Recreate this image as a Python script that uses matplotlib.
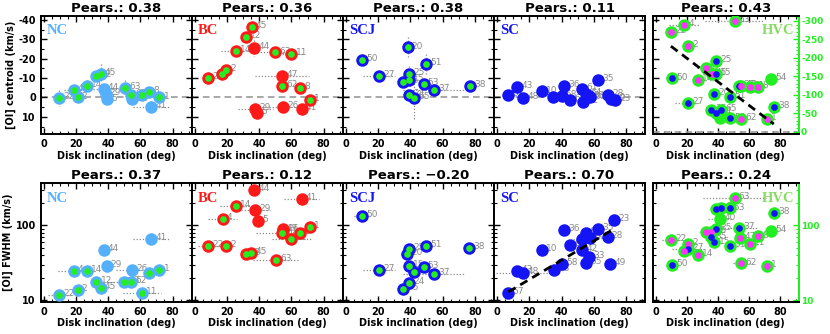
import numpy as np
import matplotlib
matplotlib.use('Agg')
import matplotlib.pyplot as plt
from matplotlib.ticker import FixedLocator, MultipleLocator, NullFormatter, FuncFormatter, LogLocator

# ------------------------------------------------------------------ data
# NC - centroid
nc_c_lab = ['22', '4', '2', '14', '12', '45', '44', '29', '5', '63', '62', '26', '11', '8', '41', '1']
nc_c_x = [9.5, 18.5, 21.0, 26.7, 32.6, 35.3, 37.3, 38.4, 39.4, 50.3, 54.4, 54.8, 61.0, 65.4, 66.7, 71.8]
nc_c_y = [0.3, -4.1, 0.0, -5.9, -11.3, -12.2, -4.6, -2.0, 1.0, -5.0, -1.2, 1.0, -1.2, -3.0, 4.8, 0.0]
nc_c_dot = [1, 1, 1, 1, 1, 1, 0, 0, 0, 1, 1, 0, 1, 1, 0, 1]
nc_c_xerr = [0, 6, 0, 0, 0, 0, 7, 0, 0, 0, 0, 0, 0, 0, 11.5, 0]
nc_c_yerr = [4, 0, 0, 3, 0, 5, 0, 0, 0, 4, 0, 0, 0, 0, 3, 0]

# NC - FWHM
nc_w_lab = ['22', '2', '4', '14', '12', '45', '44', '29', '63', '62', '26', '11', '8', '41', '1']
nc_w_x = [9.6, 20.9, 18.5, 26.7, 32.6, 35.3, 37.3, 39.0, 50.0, 54.4, 54.8, 60.9, 65.4, 66.7, 71.8]
nc_w_y = [11.7, 13.9, 24.6, 24.6, 17.6, 14.6, 46.4, 28.7, 17.6, 17.6, 25.1, 12.5, 23.1, 66.4, 25.1]
nc_w_dot = [1, 1, 1, 1, 1, 1, 0, 0, 1, 1, 0, 1, 1, 0, 1]
nc_w_xerr = [7, 0, 10, 0, 0, 0, 0, 0, 9, 0, 10, 12, 0, 11, 0]

# BC - centroid
bc_c_lab = ['45', '12', '14', '44', '63', '11', '2', '4', '22', '47', '62', '8', '1', '29', '5', '26', '41']
bc_c_x = [35.3, 31.7, 25.4, 36.8, 49.9, 60.0, 19.2, 17.0, 8.0, 54.1, 54.3, 65.5, 71.7, 37.6, 38.7, 55.0, 66.4]
bc_c_y = [-36.4, -31.4, -24.2, -25.4, -23.2, -22.4, -14.4, -12.2, -10.2, -11.2, -6.1, -4.7, 1.2, 5.9, 8.1, 5.1, 5.9]
bc_c_dot = [1, 1, 1, 0, 1, 1, 1, 1, 1, 0, 1, 1, 1, 0, 0, 0, 0]
bc_c_xerr = [0, 0, 9, 0, 13, 8, 0, 0, 0, 17, 0, 0, 0, 11, 0, 9, 0]
bc_c_yerr = [0, 0, 0, 4, 0, 0, 0, 0, 3, 0, 0, 3, 0, 0, 0, 0, 2]

# BC - FWHM
bc_w_lab = ['44', '41', '14', '29', '5', '4', '1', '26', '47', '62', '8', '11', '22', '2', '12', '45', '63']
bc_w_x = [36.8, 66.4, 25.4, 37.6, 39.1, 17.1, 71.7, 55.0, 54.5, 54.1, 65.5, 60.0, 8.0, 19.2, 31.7, 34.9, 50.3]
bc_w_y = [293, 227, 181, 162, 113, 120, 95, 86, 88, 79, 80, 66, 52.5, 52.5, 41, 43, 35]
bc_w_dot = [0, 0, 1, 0, 0, 1, 1, 0, 0, 1, 1, 1, 1, 1, 1, 1, 1]
bc_w_xerr = [0, 11, 10, 9, 0, 9, 0, 0, 0, 16, 0, 12, 6, 0, 0, 0, 14]

# SCJ - centroid
scj_c_lab = ['20', '50', '51', '27', '25', '15', '35', '53', '37', '38', '24', '65']
scj_c_x = [38.3, 10.1, 49.5, 20.5, 39.1, 39.1, 35.5, 48.2, 54.5, 77.0, 39.1, 42.3]
scj_c_y = [-25.8, -19.2, -17.3, -11.0, -12.2, -9.0, -8.1, -6.8, -4.1, -5.9, -1.4, 0.3]
scj_c_xerr = [0, 4, 0, 10, 0, 0, 0, 0, 19, 0, 0, 0]
scj_c_yerr = [5.5, 0, 5, 0, 4, 0, 0, 0, 0, 0, 0, 11]

# SCJ - FWHM
scj_w_lab = ['50', '25', '20', '51', '38', '15', '53', '27', '65', '37', '24', '35']
scj_w_x = [10.1, 39.1, 38.1, 49.5, 76.7, 39.1, 48.2, 20.5, 42.3, 54.5, 39.1, 35.5]
scj_w_y = [133, 48.8, 41, 53, 49.9, 28.7, 27.8, 25.1, 23.9, 22.7, 17, 14.3]
scj_w_xerr = [5, 0, 4, 0, 0, 0, 0, 10, 0, 19, 0, 0]

# SC - centroid
sc_c_lab = ['57', '43', '48', '10', '13', '58', '36', '6', '61', '42', '64', '33', '60', '35', '28', '49', '23']
sc_c_x = [6.9, 12.3, 16.2, 27.6, 34.6, 40.0, 41.5, 45.4, 52.9, 53.6, 55.5, 57.0, 57.9, 62.6, 69.1, 70.5, 73.4]
sc_c_y = [-1.2, -5.4, 0.3, -3.1, 0.0, -0.8, -5.9, 1.2, -4.2, 2.5, -1.7, -0.5, 0.0, -9.0, -1.4, 0.8, 1.4]

# SC - FWHM
sc_w_lab = ['57', '43', '48', '10', '13', '58', '36', '6', '61', '42', '64', '33', '60', '35', '28', '49', '23', '55']
sc_w_x = [6.9, 12.3, 16.2, 27.6, 35.6, 40.6, 41.5, 45.4, 52.9, 52.9, 55.0, 57.2, 57.9, 62.6, 68.7, 70.2, 72.9, 55.5]
sc_w_y = [12.5, 24.6, 23.1, 46.4, 25.1, 30.8, 87.5, 54.1, 66.4, 46.4, 79, 37.8, 68.5, 90.3, 69.9, 30.2, 116.6, 31.5]
sc_w_xerr = [0, 0, 17, 0, 0, 0, 0, 0, 6, 0, 0, 0, 0, 0, 0, 0, 0, 0]
sc_w_fit = [1.023, 0.01278]        # log10(FWHM) = a + b * incl
sc_w_fit_x = [6.9, 71.0]

# HVC - centroid
hvc_c_lab = ['22', '4', '63', '2', '25', '12', '45', '15', '50', '14', '54', '37', '47', '11', '8', '20',
             '51', '27', '38', '35', '24', '65', '40', '53', '62', '1']
hvc_c_x = [9.7, 18.2, 50.6, 20.6, 38.6, 32.4, 36.0, 38.8, 10.3, 26.8, 74.0, 53.6, 54.7, 60.7, 65.5, 37.6,
           47.9, 20.6, 75.8, 35.4, 38.8, 41.8, 41.4, 47.9, 54.7, 71.5]
hvc_c_y = [-270, -290, -300, -231, -191, -171, -156, -156, -144, -140, -143, -123, -125, -120, -120, -101,
           -95, -78, -68, -59, -51, -59, -36, -36, -34, -35]
hvc_c_kind = ['m', 'm', 'm', 'm', 'b', 'm', 'm', 'b', 'b', 'm', 'g', 'b', 'm', 'm', 'm', 'b',
              'b', 'b', 'b', 'b', 'b', 'b', 'g', 'b', 'm', 'm']
hvc_c_xerr = [0, 10, 19, 0, 0, 6, 0, 0, 4, 0, 0, 0, 0, 0, 0, 0, 0, 8, 0, 0, 0, 0, 0, 0, 0, 0]
hvc_c_fit = [-262.4, 3.19]          # centroid = a + b * incl
hvc_c_fit_x = [9.7, 75.8]

# HVC - FWHM
hvc_w_lab = ['63', '65', '24', '53', '40', '38', '25', '12', '45', '35', '37', '54', '47', '8', '11', '15',
             '51', '22', '2', '27', '4', '14', '50', '62', '1']
hvc_w_x = [50.6, 41.8, 38.8, 47.4, 41.4, 75.8, 38.6, 32.4, 35.6, 35.6, 53.6, 74.0, 54.3, 65.5, 60.7, 37.6,
           47.9, 9.7, 20.6, 20.6, 18.2, 26.8, 10.3, 54.7, 71.5]
hvc_w_y = [230, 169, 164, 168, 122, 148, 89, 81, 81, 69, 92, 83, 68, 71, 57, 59,
           53, 64, 57, 49, 46, 40, 30, 31, 29]
hvc_w_kind = ['m', 'b', 'b', 'b', 'g', 'b', 'b', 'm', 'm', 'b', 'b', 'g', 'm', 'm', 'm', 'b',
              'b', 'm', 'm', 'b', 'm', 'm', 'b', 'm', 'm']
hvc_w_xerr = [20, 0, 0, 0, 8, 0, 0, 0, 0, 0, 12, 0, 0, 0, 0, 0, 0, 6, 0, 10, 0, 0, 4, 5, 0]

pears_top = ['0.38', '0.36', '0.38', '0.11', '0.43']
pears_bot = ['0.37', '0.12', '\u22120.20', '0.70', '0.24']
names = ['NC', 'BC', 'SCJ', 'SC', 'HVC']

# ------------------------------------------------------------------ style
LBLUE = '#55b0fb'
RED = '#ff1a1a'
BLUE = '#1414f5'
GREEN = '#22ee22'
MAG = '#ff33ff'
GRAY = '#8a8a8a'
HVCCOL = '#86dc62'
name_col = [LBLUE, RED, BLUE, BLUE, HVCCOL]

plt.rcParams['font.family'] = ['DejaVu Sans']
plt.rcParams['font.weight'] = 'bold'
plt.rcParams['axes.labelweight'] = 'bold'
plt.rcParams['axes.linewidth'] = 1.4
plt.rcParams['axes.unicode_minus'] = False

W, H = 830, 334
fig = plt.figure(figsize=(W / 100, H / 100), dpi=100)
lefts = [40.7, 191.8, 342.9, 494.0, 652.7]
widths = [151.1, 151.1, 151.1, 151.1, 146.3]
rows = [(16, 134.3), (183.3, 302.0)]

BIG = 9.0
SMALL = 4.8


def rect(i, r):
    t, b = rows[r]
    return [lefts[i] / W, 1 - b / H, widths[i] / W, (b - t) / H]


def base_axes(i, r, log=False):
    ax = fig.add_axes(rect(i, r))
    ax.set_xlim(-2, 92)
    ax.xaxis.set_major_locator(FixedLocator([0, 20, 40, 60, 80]))
    ax.xaxis.set_minor_locator(MultipleLocator(5))
    if log:
        ax.set_yscale('log')
        ax.set_ylim(9.5, 363)
        ax.yaxis.set_major_locator(FixedLocator([10, 100]))
        ax.yaxis.set_minor_locator(LogLocator(base=10, subs=np.arange(2, 10)))
        ax.yaxis.set_major_formatter(FuncFormatter(lambda v, p: '%g' % v))
        ax.yaxis.set_minor_formatter(NullFormatter())
    else:
        ax.set_ylim(19, -42)
        ax.yaxis.set_major_locator(FixedLocator([-40, -30, -20, -10, 0, 10]))
        ax.yaxis.set_minor_locator(MultipleLocator(5))
    ax.tick_params(which='both', direction='in', top=True, right=(i != 4), labelsize=7)
    ax.tick_params(which='major', length=4, width=1)
    ax.tick_params(which='minor', length=2, width=0.8)
    if i != 0:
        ax.tick_params(labelleft=False)
    ax.set_xlabel('Disk inclination (deg)', fontsize=7, labelpad=1)
    ax.set_title('Pears.: ' + (pears_top if r == 0 else pears_bot)[i], fontsize=9.5, fontweight='bold', pad=3)
    if i == 4:
        ax.text(0.97, 0.93, names[i], transform=ax.transAxes, ha='right', va='top', color=name_col[i],
                fontsize=10.5, fontweight='bold', family='Liberation Serif', zorder=10)
    else:
        ax.text(0.04, 0.93, names[i], transform=ax.transAxes, ha='left', va='top', color=name_col[i],
                fontsize=10.5, fontweight='bold', family='Liberation Serif', zorder=10)
    return ax


def errs(ax, x, y, xerr=None, yerr=None):
    x = np.asarray(x, float)
    y = np.asarray(y, float)
    if xerr is not None:
        xe = np.asarray(xerr, float)
        m = xe > 0
        ax.hlines(y[m], x[m] - xe[m], x[m] + xe[m], colors=GRAY, linestyles=(0, (1, 1.5)), lw=0.9, zorder=1)
    if yerr is not None:
        ye = np.asarray(yerr, float)
        m = ye > 0
        ax.vlines(x[m], y[m] - ye[m], y[m] + ye[m], colors=GRAY, linestyles=(0, (1, 1.5)), lw=0.9, zorder=1)


def labels(ax, x, y, lab):
    for xi, yi, li in zip(x, y, lab):
        ax.annotate(li, (xi, yi), xytext=(3, 1), textcoords='offset points', fontsize=6.5,
                    fontweight='normal', color=GRAY, ha='left', va='center', zorder=2)


def ring_plot(ax, x, y, lab, col, dot, xerr=None, yerr=None, dotcol=GREEN):
    errs(ax, x, y, xerr, yerr)
    labels(ax, x, y, lab)
    ax.plot(x, y, 'o', ms=BIG, mfc=col, mec='none', ls='none', zorder=3)
    xd = [xi for xi, d in zip(x, dot) if d]
    yd = [yi for yi, d in zip(y, dot) if d]
    ax.plot(xd, yd, 'o', ms=SMALL, mfc=dotcol, mec='none', ls='none', zorder=4)


def zero_line(ax, y0=0):
    ax.axhline(y0, color='#999999', ls=(0, (4, 2.5)), lw=1.2, zorder=0.5)


def green_right(axr):
    axr.set_xlim(-2, 92)
    axr.tick_params(which='both', direction='in', colors=GREEN, labelcolor=GREEN, labelsize=6.5, pad=1.5)
    axr.tick_params(which='major', length=4, width=1)
    axr.tick_params(which='minor', length=2, width=0.8)
    axr.spines['right'].set_color(GREEN)
    axr.spines['right'].set_linewidth(1.4)


kcol = {'m': MAG, 'b': BLUE, 'g': GREEN}

# ------------------------------------------------------------------ top row
ax = base_axes(0, 0)
zero_line(ax)
ring_plot(ax, nc_c_x, nc_c_y, nc_c_lab, LBLUE, nc_c_dot, nc_c_xerr, nc_c_yerr)
ax.set_ylabel('[OI] centroid (km/s)', fontsize=7, labelpad=2)

ax = base_axes(1, 0)
zero_line(ax)
ring_plot(ax, bc_c_x, bc_c_y, bc_c_lab, RED, bc_c_dot, bc_c_xerr, bc_c_yerr)

ax = base_axes(2, 0)
zero_line(ax)
ring_plot(ax, scj_c_x, scj_c_y, scj_c_lab, BLUE, [1] * len(scj_c_x), scj_c_xerr, scj_c_yerr)

ax = base_axes(3, 0)
zero_line(ax)
ring_plot(ax, sc_c_x, sc_c_y, sc_c_lab, BLUE, [0] * len(sc_c_x))

ax = base_axes(4, 0)
ax.spines['right'].set_color(GREEN)
axr = ax.twinx()
axr.set_ylim(7, -313)
axr.yaxis.set_major_locator(FixedLocator([-300, -250, -200, -150, -100, -50, 0]))
axr.yaxis.set_minor_locator(MultipleLocator(10))
green_right(axr)
zero_line(axr)
ring_plot(axr, hvc_c_x, hvc_c_y, hvc_c_lab, GREEN, [k != 'g' for k in hvc_c_kind], hvc_c_xerr)
for xi, yi, k in zip(hvc_c_x, hvc_c_y, hvc_c_kind):
    if k != 'g':
        axr.plot([xi], [yi], 'o', ms=SMALL, mfc=kcol[k], mec='none', zorder=5)
fx = np.array(hvc_c_fit_x)
axr.plot(fx, hvc_c_fit[0] + hvc_c_fit[1] * fx, color='black', ls=(0, (3, 2)), lw=2, zorder=6)

# ------------------------------------------------------------------ bottom row
ax = base_axes(0, 1, log=True)
ring_plot(ax, nc_w_x, nc_w_y, nc_w_lab, LBLUE, nc_w_dot, nc_w_xerr)
ax.set_ylabel('[OI] FWHM (km/s)', fontsize=7, labelpad=2)

ax = base_axes(1, 1, log=True)
ring_plot(ax, bc_w_x, bc_w_y, bc_w_lab, RED, bc_w_dot, bc_w_xerr)

ax = base_axes(2, 1, log=True)
ring_plot(ax, scj_w_x, scj_w_y, scj_w_lab, BLUE, [1] * len(scj_w_x), scj_w_xerr)

ax = base_axes(3, 1, log=True)
ring_plot(ax, sc_w_x, sc_w_y, sc_w_lab, BLUE, [0] * len(sc_w_x), sc_w_xerr)
fx = np.array(sc_w_fit_x)
ax.plot(fx, 10 ** (sc_w_fit[0] + sc_w_fit[1] * fx), color='black', ls=(0, (3, 2)), lw=2, zorder=6)

ax = base_axes(4, 1, log=True)
ax.spines['right'].set_color(GREEN)
axr = ax.twinx()
axr.set_yscale('log')
axr.set_ylim(9.5, 363)
axr.yaxis.set_major_locator(FixedLocator([10, 100]))
axr.yaxis.set_minor_locator(LogLocator(base=10, subs=np.arange(2, 10)))
axr.yaxis.set_major_formatter(FuncFormatter(lambda v, p: '%g' % v))
axr.yaxis.set_minor_formatter(NullFormatter())
green_right(axr)
ring_plot(axr, hvc_w_x, hvc_w_y, hvc_w_lab, GREEN, [k != 'g' for k in hvc_w_kind], hvc_w_xerr)
for xi, yi, k in zip(hvc_w_x, hvc_w_y, hvc_w_kind):
    if k != 'g':
        axr.plot([xi], [yi], 'o', ms=SMALL, mfc=kcol[k], mec='none', zorder=5)

fig.savefig('out.png', dpi=100)
